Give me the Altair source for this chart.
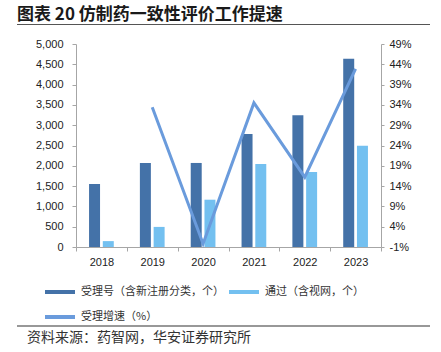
import altair as alt
import pandas as pd

years = ["2018", "2019", "2020", "2021", "2022", "2023"]
accepted = [1552, 2069, 2070, 2783, 3243, 4638]
passed = [145, 495, 1165, 2044, 1847, 2495]
growth_years = ["2019", "2020", "2021", "2022", "2023"]
growth = [33.4, -0.2, 34.5, 16.2, 42.9]

s1 = "受理号（含新注册分类，个）"
s2 = "通过（含视网，个）"
s3 = "受理增速（%）"

c_dark = "#4472A8"
c_light = "#73C0F0"
c_line = "#6A9BDC"

bars_df = pd.DataFrame(
    {"year": years * 2, "value": accepted + passed, "series": [s1] * 6 + [s2] * 6}
)
line_df = pd.DataFrame({"year": growth_years, "growth": growth, "series": [s3] * 5})
one = pd.DataFrame({"a": [0]})

FONT_CJK = "Noto Sans CJK SC"
FONT_NUM = "Liberation Sans"
AX = "#A6A6A6"

color_scale = alt.Scale(domain=[s1, s2, s3], range=[c_dark, c_light, c_line])

legend = alt.Legend(
    title=None,
    orient="none",
    direction="horizontal",
    legendX=-33,
    legendY=231,
    columns=2,
    values=[s1, s2, s3],
    symbolType="stroke",
    symbolSize=900,
    symbolStrokeWidth=4,
    labelFont=FONT_CJK,
    labelFontSize=11,
    labelColor="#333333",
    labelOffset=4,
    columnPadding=-3,
    rowPadding=-13,
    labelLimit=300,
)

x_enc = alt.X(
    "year:N",
    sort=years,
    scale=alt.Scale(paddingInner=0, paddingOuter=0),
    axis=alt.Axis(
        title=None,
        labelAngle=0,
        tickBand="extent",
        tickSize=4,
        labelPadding=5,
        labelFont=FONT_NUM,
        labelFontSize=11,
        labelColor="#222222",
        domainColor=AX,
        tickColor=AX,
    ),
)

bars = (
    alt.Chart(bars_df)
    .mark_bar()
    .encode(
        x=x_enc,
        xOffset=alt.XOffset(
            "series:N",
            sort=[s1, s2],
            scale=alt.Scale(paddingInner=0.2, paddingOuter=0.95),
        ),
        y=alt.Y(
            "value:Q",
            scale=alt.Scale(domain=[0, 5000], nice=False),
            axis=alt.Axis(
                title=None,
                values=list(range(0, 5001, 500)),
                labelExpr="format(datum.value, ',')",
                tickSize=4,
                labelPadding=9,
                labelFont=FONT_NUM,
                labelFontSize=11,
                labelColor="#222222",
                domainColor=AX,
                tickColor=AX,
                grid=False,
            ),
        ),
        color=alt.Color("series:N", scale=color_scale, sort=[s1, s2, s3], legend=legend),
    )
)

line = (
    alt.Chart(line_df)
    .mark_line(strokeWidth=3)
    .encode(
        x=alt.X("year:N", sort=years),
        y=alt.Y(
            "growth:Q",
            scale=alt.Scale(domain=[-1, 49], nice=False, zero=False),
            axis=alt.Axis(
                title=None,
                orient="right",
                values=list(range(-1, 50, 5)),
                labelExpr="datum.value + '%'",
                tickSize=3,
                labelPadding=5,
                labelFont=FONT_NUM,
                labelFontSize=11,
                labelColor="#222222",
                domainColor=AX,
                tickColor=AX,
                grid=False,
            ),
        ),
        color=alt.Color("series:N", scale=color_scale, sort=[s1, s2, s3], legend=legend),
    )
)

title_txt = (
    alt.Chart(one)
    .mark_text(
        align="left",
        baseline="middle",
        font=FONT_CJK,
        fontSize=17,
        fontWeight="bold",
        color="#1a1a1a",
    )
    .encode(x=alt.value(-59), y=alt.value(-29), text=alt.value("图表 20 仿制药一致性评价工作提速"))
)

source_txt = (
    alt.Chart(one)
    .mark_text(
        align="left",
        baseline="middle",
        font=FONT_CJK,
        fontSize=14,
        color="#333333",
    )
    .encode(x=alt.value(-49), y=alt.value(294), text=alt.value("资料来源：药智网，华安证券研究所"))
)

top_rule = (
    alt.Chart(one)
    .mark_rule(color="#555555", strokeWidth=1.2)
    .encode(x=alt.value(-59), x2=alt.value(354), y=alt.value(-19.5))
)
bottom_rule = (
    alt.Chart(one)
    .mark_rule(color="#333333", strokeWidth=1.2)
    .encode(x=alt.value(-59), x2=alt.value(354), y=alt.value(282))
)

chart = (
    alt.layer(bars, line, title_txt, source_txt, top_rule, bottom_rule)
    .resolve_scale(y="independent")
    .properties(
        width=305,
        height=203,
        autosize=alt.AutoSizeParams(type="none"),
        padding={"left": 76, "top": 44, "right": 60, "bottom": 105},
        background="white",
    )
    .configure_view(stroke=None)
)

chart.save("out.html", embed_options={"renderer": "svg", "actions": False})
